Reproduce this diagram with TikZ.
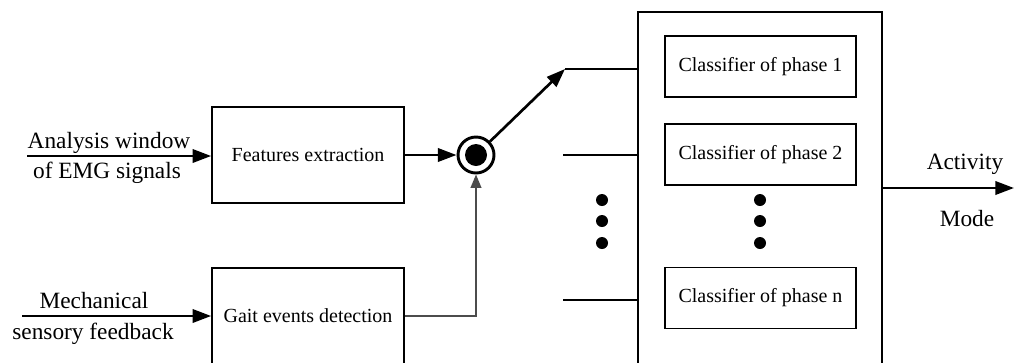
\documentclass[tikz,border=0pt]{standalone}
\usepackage{fontspec}
\setmainfont{Liberation Serif}
\usetikzlibrary{arrows.meta,positioning}

\begin{document}
\begin{tikzpicture}[
x=0.75pt,y=-0.75pt,
blk/.style={rectangle,draw,line width=1.2pt,minimum width=144pt,font=\fontsize{15}{18}\selectfont},
lbl/.style={font=\fontsize{17.5}{21}\selectfont,inner sep=0pt,anchor=base},
fat/.style={line width=2pt,-{Triangle[length=14pt,width=10pt]}},
wire/.style={line width=1.2pt},
dot/.style={circle,fill,inner sep=0pt,minimum size=9pt},
]
\useasboundingbox (0,0) rectangle (1015,362);
\clip (0,0) rectangle (1015,362);

% feature path and gait path
\node[blk,minimum height=72pt] (feat) at (308,155) {Features extraction};
\node[blk,minimum height=72pt] (gait) at (308,316) {Gait events detection};

\coordinate (emg) at (27,156);
\coordinate (mech) at (22,316);
\draw[fat] (emg) -- (emg -| feat.west);
\draw[fat] (mech) -- (gait);
\node[lbl] (emg1) at (109,148) {Analysis window};
\node[lbl] (emg2) at (107,178) {of EMG signals};
\node[lbl] (mech1) at (94,308) {Mechanical};
\node[lbl] (mech2) at (93,339) {sensory feedback};

% phase switch
\node[circle,draw,line width=2.2pt,minimum size=27pt,inner sep=0pt] (sw) at (476,155) {};
\node[dot,minimum size=16.5pt] (swdot) at (sw) {};
\draw[fat] (feat) -- (sw);
\draw[wire,black!70,-{Triangle[length=10pt,width=8pt]}] (gait.east) -| (sw);

% classifier bank
\node[draw,wire,minimum width=183pt,minimum height=276pt,inner sep=0pt] (bank) at (760,196) {};
\node[blk,minimum width=143pt,minimum height=46pt] (cls1) at (760.5,66.5) {Classifier of phase 1};
\node[blk,minimum width=143pt,minimum height=46pt] (cls2) at (760.5,154.5) {Classifier of phase 2};
\node[blk,minimum width=143pt,minimum height=46pt] (clsn) at (760.5,298) {Classifier of phase n};

\coordinate (in1) at (565,69);
\coordinate (in2) at (563,155);
\coordinate (in3) at (563,300);
\draw[fat] (sw) -- (in1);
\draw[wire] (in1) -- (in1 -| bank.west);
\draw[wire] (in2) -- (in2 -| bank.west);
\draw[wire] (in3) -- (in3 -| bank.west);

\foreach \y [count=\i] in {200,221,243} {
  \node[dot] (ld\i) at (602,\y) {};
  \node[dot] (rd\i) at (760,\y) {};
}

% output
\coordinate (out) at (1014,188);
\draw[fat] (bank.east |- out) -- (out);
\node[lbl] (act) at (965,169) {Activity};
\node[lbl] (mode) at (967,226) {Mode};
\end{tikzpicture}
\end{document}
